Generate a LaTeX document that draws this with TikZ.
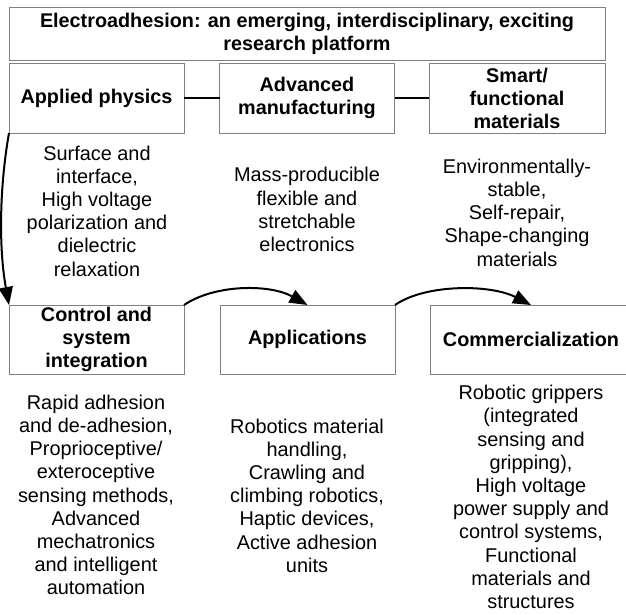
\documentclass[tikz,border=0pt]{standalone}
\usepackage{fontspec}
\setmainfont{Liberation Sans}
\usetikzlibrary{arrows.meta}
\begin{document}
\begin{tikzpicture}[x=1pt,y=-1pt,
  box/.style={draw=boxgray,line width=1pt,inner sep=0pt,outer sep=0pt,align=center,
    font=\fontsize{19.8}{23}\selectfont\bfseries},
  desc/.style={inner sep=0pt,align=center,font=\fontsize{19.9}{23.2}\selectfont},
  link/.style={line width=2pt,black},
  arr/.style={line width=2pt,black,-{Triangle[length=18pt,width=14pt]}}]
\definecolor{boxgray}{RGB}{128,128,128}
\useasboundingbox (0,0) rectangle (626,614);
\clip (0,0) rectangle (626,614);
\node[box,minimum width=596pt,minimum height=53pt] (title) at (307,33.5)
  {Electroadhesion: an emerging, interdisciplinary, exciting\\research platform};
\node[box,minimum width=175pt,minimum height=70pt] (ap) at (96.5,98) {Applied physics};
\node[box,minimum width=175pt,minimum height=70pt] (am) at (307,98) {Advanced\\manufacturing};
\node[box,minimum width=176pt,minimum height=70pt] (sm) at (517,98) {Smart/\\functional\\materials};
\node[box,minimum width=175pt,minimum height=69pt] (cs) at (96.5,339.5) {Control and\\system\\integration};
\node[box,minimum width=175pt,minimum height=69pt] (apps) at (307.5,339.5) {Applications};
\node[box,minimum width=202pt,minimum height=69pt] (com) at (531,339.5) {Commercialization};
\node[desc] (d1) at (97,211) {Surface and\\interface,\\High voltage\\polarization and\\dielectric\\relaxation};
\node[desc] (d2) at (307,209.5) {Mass-producible\\flexible and\\stretchable\\electronics};
\node[desc] (d3) at (517,212.5) {Environmentally-\\stable,\\Self-repair,\\Shape-changing\\materials};
\node[desc] (d4) at (96,495) {Rapid adhesion\\and de-adhesion,\\Proprioceptive/\\exteroceptive\\sensing methods,\\Advanced\\mechatronics\\and intelligent\\automation};
\node[desc] (d5) at (307,495.5) {Robotics material\\handling,\\Crawling and\\climbing robotics,\\Haptic devices,\\Active adhesion\\units};
\node[desc] (d6) at (531,497) {Robotic grippers\\(integrated\\sensing and\\gripping),\\High voltage\\power supply and\\control systems,\\Functional\\materials and\\structures};
\draw[link] (ap.east) -- (am.west);
\draw[link] (am.east) -- (sm.west);
\draw[arr] (ap.south west) .. controls (-1,190) and (-1,250) .. (cs.north west);
\draw[arr] (cs.north east) .. controls (215,284) and (270,284) .. (apps.north);
\draw[arr] (apps.north east) .. controls (425,284) and (490,284) .. (com.north);
\end{tikzpicture}
\end{document}
